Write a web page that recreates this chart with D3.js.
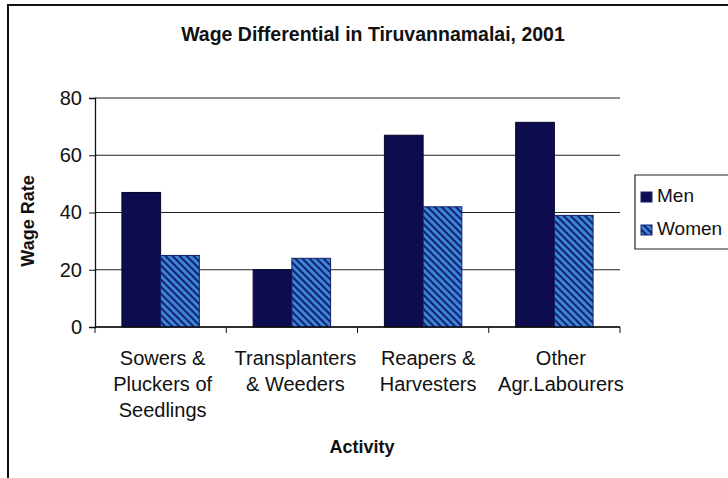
<!DOCTYPE html>
<html><head><meta charset="utf-8">
<script src="https://cdn.jsdelivr.net/npm/d3@7"></script>
<style>body{margin:0;background:#fff}svg{display:block}</style>
</head><body><svg id="c" width="728" height="478"></svg>
<script>
const categories = [["Sowers &","Pluckers of","Seedlings"],["Transplanters","& Weeders"],["Reapers &","Harvesters"],["Other","Agr.Labourers"]];
const seriesNames = ["Men","Women"];
const men = [47, 20, 67, 71.5];
const women = [25, 24, 42, 39];
const yTicks = [0,20,40,60,80];

const svg = d3.select("#c");
const font = "Liberation Sans, Arial, sans-serif";
const m = {l:95, r:620, t:98, b:327};

const defs = svg.append("defs");
const pat = defs.append("pattern").attr("id","hatch").attr("patternUnits","userSpaceOnUse")
  .attr("width",5).attr("height",5).attr("patternTransform","rotate(-45)");
pat.append("rect").attr("width",5).attr("height",5).attr("fill","#3b84d6");
pat.append("rect").attr("x",0).attr("width",2).attr("height",5).attr("fill","#12226e");

// frame
svg.append("path").attr("d","M8,478 V5 H728").attr("fill","none").attr("stroke","#111").attr("stroke-width",2);

svg.append("text").attr("x",373).attr("y",41).attr("text-anchor","middle")
  .attr("font-family",font).attr("font-weight","bold").attr("font-size",19.5).attr("fill","#111").text("Wage Differential in Tiruvannamalai, 2001");

const x = d3.scaleBand().domain(d3.range(categories.length)).range([m.l,m.r]);
const y = d3.scaleLinear().domain([0,80]).range([m.b,m.t]);

// gridlines
svg.append("g").selectAll("line").data(yTicks).join("line")
  .attr("x1",m.l).attr("x2",m.r).attr("y1",d=>y(d)).attr("y2",d=>y(d))
  .attr("stroke","#222").attr("stroke-width",1.2);

const gw = x.bandwidth()*0.59;
const bw = gw/2;
const g = svg.append("g");
g.selectAll("rect.men").data(men).join("rect").attr("class","men")
  .attr("x",(d,i)=>x(i)+(x.bandwidth()-gw)/2).attr("width",bw)
  .attr("y",d=>y(d)).attr("height",d=>y(0)-y(d)).attr("fill","#0c0c4e").attr("stroke","#05052a").attr("stroke-width",1);
g.selectAll("rect.women").data(women).join("rect").attr("class","women")
  .attr("x",(d,i)=>x(i)+(x.bandwidth()-gw)/2+bw).attr("width",bw)
  .attr("y",d=>y(d)).attr("height",d=>y(0)-y(d)).attr("fill","url(#hatch)").attr("stroke","#10206a").attr("stroke-width",1);

// y axis
const ya = svg.append("g").attr("transform",`translate(${m.l},0)`)
  .call(d3.axisLeft(y).tickValues(yTicks).tickSize(6).tickPadding(7));
ya.select(".domain").attr("stroke","#111").attr("stroke-width",1.3);
ya.selectAll("line").attr("stroke","#111");
ya.selectAll("text").attr("font-family",font).attr("font-size",20).attr("fill","#111");

// x axis
const xa = svg.append("g").attr("transform",`translate(0,${m.b})`);
xa.append("line").attr("x1",m.l).attr("x2",m.r).attr("stroke","#111").attr("stroke-width",1.3);
xa.selectAll("line.t").data(d3.range(categories.length+1)).join("line").attr("class","t")
  .attr("x1",i=>m.l+i*x.step()).attr("x2",i=>m.l+i*x.step()).attr("y1",0).attr("y2",6).attr("stroke","#111");
const lbl = svg.append("g").selectAll("text").data(categories).join("text")
  .attr("text-anchor","middle").attr("font-family",font).attr("font-size",20).attr("fill","#111");
lbl.each(function(lines,i){
  const t = d3.select(this);
  lines.forEach((s,j)=>t.append("tspan").attr("x",x(i)+x.bandwidth()/2+2+i*1.5).attr("y",365+j*26).text(s));
});

svg.append("text").attr("x",362).attr("y",453).attr("text-anchor","middle")
  .attr("font-family",font).attr("font-weight","bold").attr("font-size",18).attr("fill","#111").text("Activity");
svg.append("text").attr("transform","translate(34,221) rotate(-90)").attr("text-anchor","middle")
  .attr("font-family",font).attr("font-weight","bold").attr("font-size",18).attr("fill","#111").text("Wage Rate");

// legend
const lg = svg.append("g");
lg.append("path").attr("d","M728,175 H635 V249 H728").attr("fill","#fff").attr("stroke","#222").attr("stroke-width",1.2);
const fills = ["#0c0c4e","url(#hatch)"];
seriesNames.forEach((s,i)=>{
  const yy = 202 + i*33;
  lg.append("rect").attr("x",641).attr("y",yy-10).attr("width",11).attr("height",10).attr("fill",fills[i]).attr("stroke","#10206a");
  lg.append("text").attr("x",657).attr("y",yy).attr("font-family",font).attr("font-size",19).attr("fill","#111").text(s);
});
</script></body></html>
